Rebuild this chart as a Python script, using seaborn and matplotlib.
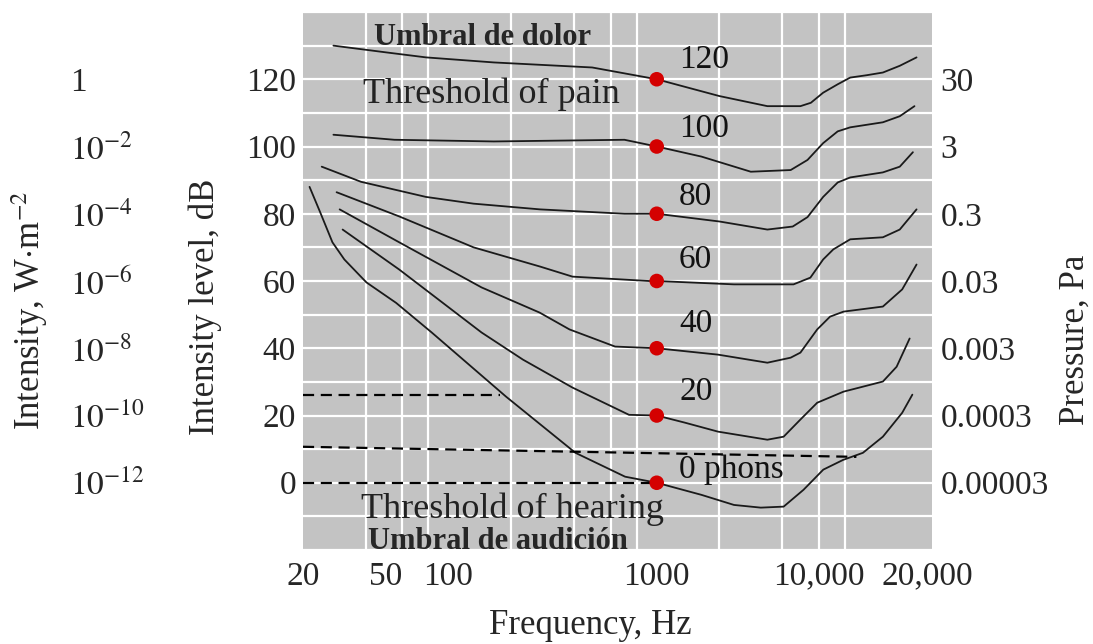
import numpy as np
import pandas as pd
import matplotlib
matplotlib.use("Agg")
import matplotlib.pyplot as plt
import matplotlib.ticker as ticker
import seaborn as sns

# equal loudness contours: frequency (Hz) and level (dB)
f_120 = [28, 50, 78, 165, 490, 1000, 2000, 3400, 4900, 5500, 6300, 7400, 8500, 10200, 12200, 14700, 17700]
db_120 = [130, 128, 126.5, 125, 123.5, 120, 115, 112, 112, 113, 116, 118.5, 120.5, 121.2, 122, 124, 126.5]

f_100 = [28, 55, 165, 700, 1000, 1640, 2830, 4400, 5300, 6300, 7400, 8500, 12200, 14700, 17300]
db_100 = [103.5, 102, 101.5, 102, 100, 97, 92.5, 93, 96, 101, 104.5, 105.7, 107.2, 109, 112]

f_80 = [24.6, 38, 78, 132, 275, 700, 1000, 2000, 3400, 4500, 5300, 6300, 7400, 8500, 12200, 14700, 17000]
db_80 = [94, 89.5, 85, 83, 81.3, 80, 80, 77.7, 75.3, 76.2, 79, 85, 89.3, 90.8, 92.3, 94, 98.3]

f_60 = [29, 58, 132, 275, 394, 916, 1000, 2350, 4540, 5470, 6300, 7050, 8500, 12200, 14700, 17700]
db_60 = [86.4, 79.2, 70, 64.3, 61.3, 60, 60, 59, 59, 61, 66.4, 69.4, 72.4, 73, 75.3, 81.3]

f_40 = [30, 58, 144, 274, 381, 631, 1000, 1970, 3400, 4400, 4900, 5900, 6800, 7900, 12200, 15100, 17700]
db_40 = [81.3, 71.5, 58.1, 50.6, 45.6, 40.5, 40, 38.1, 35.7, 37.2, 38.7, 45.6, 49.4, 50.9, 52.4, 57.5, 64.9]

f_20 = [31, 58, 144, 228, 394, 736, 1000, 1360, 1970, 3400, 4070, 4900, 5900, 7900, 12200, 14200, 16400]
db_20 = [75.3, 63.4, 44.7, 36.6, 28.3, 20.2, 20, 17.9, 15.2, 12.8, 13.7, 18.8, 23.8, 27.1, 30.1, 34.5, 42.9]

f_0 = [21.5, 24.2, 27.7, 31.6, 40.3, 56, 83, 189, 407, 705, 1000, 1640, 2350, 3160, 4070, 5070, 6310, 7860, 9780, 12200, 15100, 16900]
db_0 = [88, 80.4, 71.5, 66.4, 59.6, 53.5, 44.7, 25.6, 8.9, 1.8, 0, -3.6, -6.6, -7.4, -7.1, -2.1, 3.9, 6.8, 8.9, 13.7, 20.8, 26.2]

phons = [120, 100, 80, 60, 40, 20, 0]
curve_labels = ["120", "100", "80", "60", "40", "20", "0 phons"]
label_db = [125.7, 105.4, 85.2, 66.4, 47.3, 27.1, 3.9]

# dashed reference lines
dash_a_f, dash_a_db = [20, 176], [26, 26]
dash_b_f, dash_b_db = [20, 9100], [10.7, 7.7]
dash_c_f, dash_c_db = [20, 1000], [0, 0]

freq_ticks = [20, 50, 100, 1000, 10000, 20000]
freq_labels = ["20", "50", "100", "1000", "10,000", "20,000"]
grid_f = [20, 40, 60, 80, 100, 200, 400, 600, 800, 1000, 2000, 4000, 6000, 8000, 10000, 20000]
db_ticks = [0, 20, 40, 60, 80, 100, 120]
intensity_labels = [r"$10^{-12}$", r"$10^{-10}$", r"$10^{-8}$", r"$10^{-6}$",
                    r"$10^{-4}$", r"$10^{-2}$", "1"]
pressure_labels = ["0.00003", "0.0003", "0.003", "0.03", "0.3", "3", "30"]

curves = pd.concat([
    pd.DataFrame({"freq": f, "db": d, "phon": p})
    for f, d, p in zip([f_120, f_100, f_80, f_60, f_40, f_20, f_0],
                       [db_120, db_100, db_80, db_60, db_40, db_20, db_0], phons)
], ignore_index=True)
dots = pd.DataFrame({"freq": [1000] * len(phons), "db": phons})

sns.set_style("darkgrid", {"axes.facecolor": "#c3c3c3", "grid.color": "white"})
plt.rcParams["font.family"] = ["Liberation Serif", "DejaVu Serif"]
plt.rcParams["mathtext.fontset"] = "stix"

fig = plt.figure(figsize=(10.93, 6.44), dpi=100)
ax = fig.add_axes([303 / 1093, 1 - 550 / 644, 629 / 1093, 538 / 644])

sns.lineplot(data=curves, x="freq", y="db", units="phon", estimator=None, sort=False,
             color="#1a1a1a", lw=1.3, ax=ax, legend=False,
             solid_joinstyle="round", solid_capstyle="round")
for fx, dy in [(dash_a_f, dash_a_db), (dash_b_f, dash_b_db), (dash_c_f, dash_c_db)]:
    ax.plot(fx, dy, color="black", lw=1.6, ls=(0, (5, 3)))
sns.scatterplot(data=dots, x="freq", y="db", color="#d40000", s=110, edgecolor="none",
                ax=ax, zorder=5, legend=False)

ax.set_xscale("log")
ax.set_xlim(20, 21000)
ax.set_ylim(-20, 140)
ax.set_xticks(freq_ticks, labels=freq_labels)
ax.xaxis.set_minor_locator(ticker.FixedLocator(grid_f))
ax.xaxis.set_minor_formatter(ticker.NullFormatter())
ax.set_yticks(db_ticks)
ax.yaxis.set_minor_locator(ticker.MultipleLocator(10))
ax.grid(False, axis="x", which="major")
ax.grid(True, axis="x", which="minor", color="white", lw=1.6)
ax.grid(True, axis="y", which="both", color="white", lw=1.6)
ax.tick_params(which="both", length=0, labelsize=24)
ax.tick_params(axis="y", pad=5)
ax.tick_params(axis="x", pad=8)
ax.set_xlabel("")
ax.set_ylabel("")
for s in ax.spines.values():
    s.set_visible(False)
# keep the two crowded labels at the right end apart
xt = ax.get_xticklabels()
xt[4].set_horizontalalignment("right")
xt[4].set_x(13000)

# pressure on the right
sec_r = ax.secondary_yaxis("right")
sec_r.set_yticks(db_ticks, labels=pressure_labels)
sec_r.tick_params(length=0, labelsize=24, pad=6)
for s in sec_r.spines.values():
    s.set_visible(False)

# intensity on the far left
sec_l = ax.secondary_yaxis(-0.37)
sec_l.set_yticks(db_ticks, labels=intensity_labels)
sec_l.tick_params(length=0, labelsize=24, pad=0)
for lbl in sec_l.get_yticklabels():
    lbl.set_horizontalalignment("left")
for s in sec_l.spines.values():
    s.set_visible(False)

for txt, d in zip(curve_labels, label_db):
    ax.text(1280, d, txt, fontsize=24, va="center", ha="left", color="#111111")

ax.text(44, 132.5, "Umbral de dolor", fontsize=22, fontweight="bold", va="center")
ax.text(39, 115.5, "Threshold of pain", fontsize=26, va="center", color="#222222")
ax.text(38, -8.0, "Threshold of hearing", fontsize=26, va="center", color="#222222")
ax.text(41, -17.6, "Umbral de audición", fontsize=22, fontweight="bold", va="center")

fig.text(590 / 1093, 1 - 625 / 644, "Frequency, Hz", fontsize=25, ha="center", va="center")
fig.text(205 / 1093, 1 - 307 / 644, "Intensity level, dB", fontsize=25, rotation=90,
         ha="center", va="center")
fig.text(30 / 1093, 1 - 310 / 644, r"Intensity, W$\cdot$m$^{-2}$", fontsize=25, rotation=90,
         ha="center", va="center")
fig.text(1075 / 1093, 1 - 340 / 644, "Pressure, Pa", fontsize=25, rotation=90,
         ha="center", va="center")

fig.savefig("out.png", dpi=100)
